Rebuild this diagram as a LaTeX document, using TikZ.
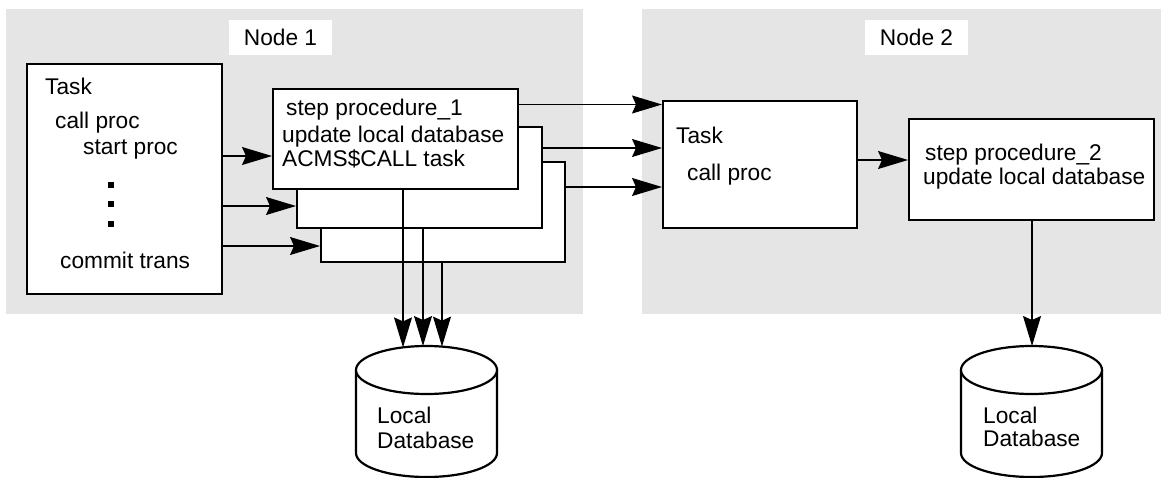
\documentclass[tikz,border=0pt]{standalone}
\usepackage{fontspec}
\setmainfont{Liberation Sans}
\usetikzlibrary{arrows.meta}
\definecolor{regiongray}{HTML}{E5E5E5}
\begin{document}
\begin{tikzpicture}[x=1pt,y=1pt,
  region/.style={fill=regiongray, draw=none},
  box/.style={draw=black, line width=2.2pt, fill=white, inner sep=0, anchor=north west},
  lbl/.style={fill=white, inner sep=0, font=\fontsize{22.7}{26}\selectfont},
  txt/.style={anchor=base west, inner sep=0, font=\fontsize{22.7}{26}\selectfont},
  dotmark/.style={fill=black, inner sep=0, minimum size=6pt},
  arr/.style={line width=1.2pt, -{Stealth[length=30pt,width=18pt,inset=4pt]}},
  dbshape/.style={line width=2.2pt, fill=white}]
\useasboundingbox (0,0) rectangle (1161,-477);
% regions
\fill[region] (6,-9) rectangle (583,-314);
\fill[region] (642,-9) rectangle (1161,-314);
\node[lbl, minimum width=103pt, minimum height=35pt] (n1) at (280.5,-37.5) {Node 1};
\node[lbl, minimum width=103pt, minimum height=35pt] (n2) at (916.5,-37.5) {Node 2};
% Node 1 boxes
\node[box, minimum width=195pt, minimum height=230pt] (t1) at (26,-63) {};
\node[box, minimum width=244pt, minimum height=100pt] (s3) at (320,-161) {};
\node[box, minimum width=245pt, minimum height=101pt] (s2) at (296,-126) {};
\node[box, minimum width=245pt, minimum height=100pt] (s1) at (272,-88) {};
% Node 2 boxes
\node[box, minimum width=194pt, minimum height=127pt] (t2) at (662,-100) {};
\node[box, minimum width=245pt, minimum height=101pt] (p2) at (908,-118) {};
% texts task 1
\node[txt] (t1a) at (45,-94) {Task};
\node[txt] (t1b) at (55,-128) {call proc};
\node[txt] (t1c) at (83,-154) {start proc};
\node[dotmark] (d1) at (111,-185) {};
\node[dotmark] (d2) at (111,-204) {};
\node[dotmark] (d3) at (111,-224) {};
\node[txt] (t1d) at (60,-268) {commit trans};
% texts step 1
\node[txt] (s1a) at (286,-115) {step procedure\_1};
\node[txt] (s1b) at (282,-142) {update local database};
\node[txt] (s1c) at (282,-166) {ACMS\$CALL task};
% texts task 2
\node[txt] (t2a) at (676,-143) {Task};
\node[txt] (t2b) at (687,-180) {call proc};
% texts step 2
\node[txt] (p2a) at (925,-160) {step procedure\_2};
\node[txt] (p2b) at (923,-184) {update local database};
% databases
\draw[dbshape] (356,-370) -- (356,-453) arc[start angle=180, end angle=360, x radius=70.5pt, y radius=24pt] -- (497,-370);
\draw[dbshape] (426.5,-370) ellipse[x radius=70.5pt, y radius=24pt];
\draw[dbshape] (961,-370) -- (961,-453) arc[start angle=180, end angle=360, x radius=70.5pt, y radius=24pt] -- (1102,-370);
\draw[dbshape] (1031.5,-370) ellipse[x radius=70.5pt, y radius=24pt];
\node[txt] (db1a) at (377,-423) {Local};
\node[txt] (db1b) at (377,-448) {Database};
\node[txt] (db2a) at (983,-423) {Local};
\node[txt] (db2b) at (983,-446) {Database};
\coordinate (db1L) at (403,-347.4);
\coordinate (db1M) at (423,-346);
\coordinate (db1R) at (442,-346.6);
\coordinate (db2T) at (1032,-346);
% helper rows
\coordinate (ya) at (0,-156);
\coordinate (yb) at (0,-206);
\coordinate (yc) at (0,-246);
\coordinate (yd) at (0,-104.5);
\coordinate (ye) at (0,-148);
\coordinate (yf) at (0,-187);
\coordinate (yg) at (0,-160);
% connectors
\draw[arr] (t1.east |- ya) -- (s1.west |- ya);
\draw[arr] (t1.east |- yb) -- (s2.west |- yb);
\draw[arr] (t1.east |- yc) -- (s3.west |- yc);
\draw[arr] (s1.east |- yd) -- (t2.west |- yd);
\draw[arr] (s2.east |- ye) -- (t2.west |- ye);
\draw[arr] (s3.east |- yf) -- (t2.west |- yf);
\draw[arr] (t2.east |- yg) -- (p2.west |- yg);
\draw[arr] (db1L |- s1.south) -- (db1L);
\draw[arr] (db1M |- s2.south) -- (db1M);
\draw[arr] (db1R |- s3.south) -- (db1R);
\draw[arr] (db2T |- p2.south) -- (db2T);
\end{tikzpicture}
\end{document}
